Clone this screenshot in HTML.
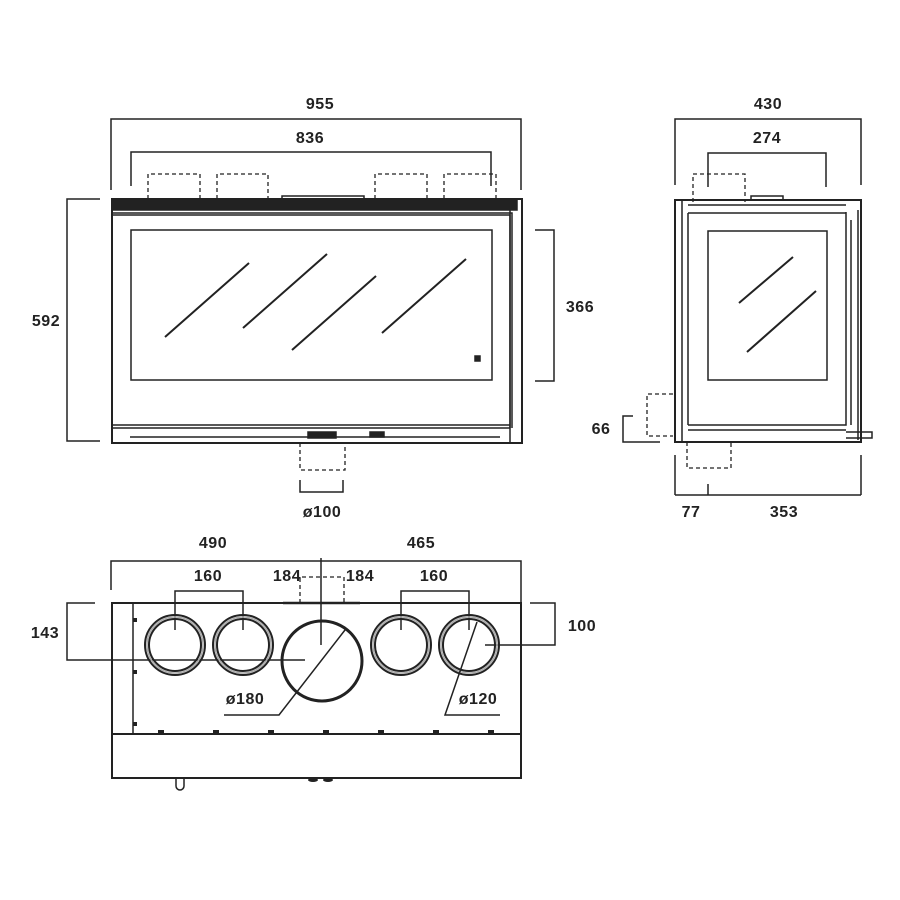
<!DOCTYPE html>
<html><head><meta charset="utf-8"><style>
html,body{margin:0;padding:0;background:#fff}
svg{display:block}
text{font-family:"Liberation Sans",sans-serif;font-size:16px;font-weight:bold;fill:#222;text-anchor:middle;letter-spacing:0.5px}
</style></head><body>
<svg width="900" height="900" viewBox="0 0 900 900" xmlns="http://www.w3.org/2000/svg">
<g stroke="#222" fill="none" stroke-width="1.5">
<!-- FRONT VIEW dims -->
<path d="M111 190V119H521V190"/>
<path d="M131 186V152H491V186"/>
<path d="M100 199H67V441H100"/>
<path d="M535 230H554V381H535"/>
<path d="M300 480V492H343V480"/>
<!-- dashed boxes -->
<g stroke-dasharray="4,3" stroke-width="1.3">
<path d="M148 199V174H200V199"/><path d="M217 199V174H268V199"/>
<path d="M375 199V174H427V199"/><path d="M444 199V174H496V199"/>
<path d="M300 443V470H345V443"/>
</g>
<!-- front body -->
<rect x="112" y="199" width="410" height="244" stroke-width="2"/>
<rect x="112" y="199" width="405" height="11" fill="#222"/>
<rect x="282" y="196" width="82" height="4"/>
<path d="M113 215H510V428"/>
<path d="M113 213H512V428"/>
<path d="M510 210V443"/>
<rect x="131" y="230" width="361" height="150"/>
<path d="M113 425H510M113 428H510M130 437H500"/>
<rect x="308" y="432" width="28" height="6" fill="#222"/>
<rect x="370" y="432" width="14" height="5" fill="#222"/>
<g stroke-width="2"><path d="M165 337L249 263M243 328L327 254M292 350L376 276M382 333L466 259"/></g>
<rect x="475" y="356" width="5" height="5" fill="#222"/>

<!-- SIDE VIEW -->
<path d="M675 185V119H861V185"/>
<path d="M708 187V153H826V187"/>
<g stroke-dasharray="4,3" stroke-width="1.3">
<path d="M693 202V174H745V202"/>
<path d="M673 394H647V436H673"/>
<path d="M687 442V468H731V442"/>
</g>
<path d="M633 416H623V442H660"/>
<path d="M675 455V495M708 484V495M861 455V495M675 495H861"/>
<rect x="675" y="200" width="186" height="242" stroke-width="2"/>
<path d="M682 200V442M688 213V425M688 213H846V425H688M688 205H846M688 430H846M846 212V425M851 220V425M858 210V440"/>
<rect x="751" y="196" width="32" height="4"/>
<rect x="708" y="231" width="119" height="149"/>
<g stroke-width="2"><path d="M739 303L793 257M747 352L816 291"/></g>
<path d="M846 432H872V438H846"/>

<!-- BOTTOM VIEW dims -->
<path d="M111 590V561H521V720M321 558V645"/>
<path d="M175 630V591H243V630M401 630V591H469V630"/>
<path d="M95 603H67V660H305"/>
<path d="M530 603H555V645H485"/>
<g stroke-dasharray="4,3" stroke-width="1.3"><path d="M300 603V577H344V603"/></g>
<path d="M283 603H360" stroke-width="2.5"/>
<!-- body -->
<rect x="112" y="603" width="409" height="131" stroke-width="2"/>
<path d="M133 603V734"/>
<rect x="112" y="734" width="409" height="44" stroke-width="2"/>
<g stroke-width="2">
<circle cx="175" cy="645" r="30"/><circle cx="175" cy="645" r="26"/>
<circle cx="243" cy="645" r="30"/><circle cx="243" cy="645" r="26"/>
<circle cx="401" cy="645" r="30"/><circle cx="401" cy="645" r="26"/>
<circle cx="469" cy="645" r="30"/><circle cx="469" cy="645" r="26"/>
<circle cx="322" cy="661" r="40" stroke-width="3"/>
</g>
<g stroke="#aaa" stroke-width="1.5">
<circle cx="175" cy="645" r="28"/><circle cx="243" cy="645" r="28"/>
<circle cx="401" cy="645" r="28"/><circle cx="469" cy="645" r="28"/>
</g>
<path d="M345 630L279 715H224"/>
<path d="M477 622L445 715H500"/>
<g fill="#222" stroke="none">
<rect x="158" y="730" width="6" height="3"/><rect x="213" y="730" width="6" height="3"/><rect x="268" y="730" width="6" height="3"/><rect x="323" y="730" width="6" height="3"/><rect x="378" y="730" width="6" height="3"/><rect x="433" y="730" width="6" height="3"/><rect x="488" y="730" width="6" height="3"/>
<rect x="133" y="618" width="4" height="4"/><rect x="133" y="670" width="4" height="4"/><rect x="133" y="722" width="4" height="4"/>
<ellipse cx="313" cy="780" rx="5" ry="2"/><ellipse cx="328" cy="780" rx="5" ry="2"/>
</g>
<path d="M176 779V786A4 4 0 0 0 184 786V779"/>
</g>
<text x="320" y="109">955</text>
<text x="310" y="143">836</text>
<text x="46" y="326">592</text>
<text x="580" y="312">366</text>
<text x="322" y="517">ø100</text>
<text x="768" y="109">430</text>
<text x="767" y="143">274</text>
<text x="601" y="434">66</text>
<text x="691" y="517">77</text>
<text x="784" y="517">353</text>
<text x="213" y="548">490</text>
<text x="421" y="548">465</text>
<text x="208" y="581">160</text>
<text x="434" y="581">160</text>
<text x="287" y="581">184</text>
<text x="360" y="581">184</text>
<text x="45" y="638">143</text>
<text x="582" y="631">100</text>
<text x="245" y="704">ø180</text>
<text x="478" y="704">ø120</text>
</svg>
</body></html>
